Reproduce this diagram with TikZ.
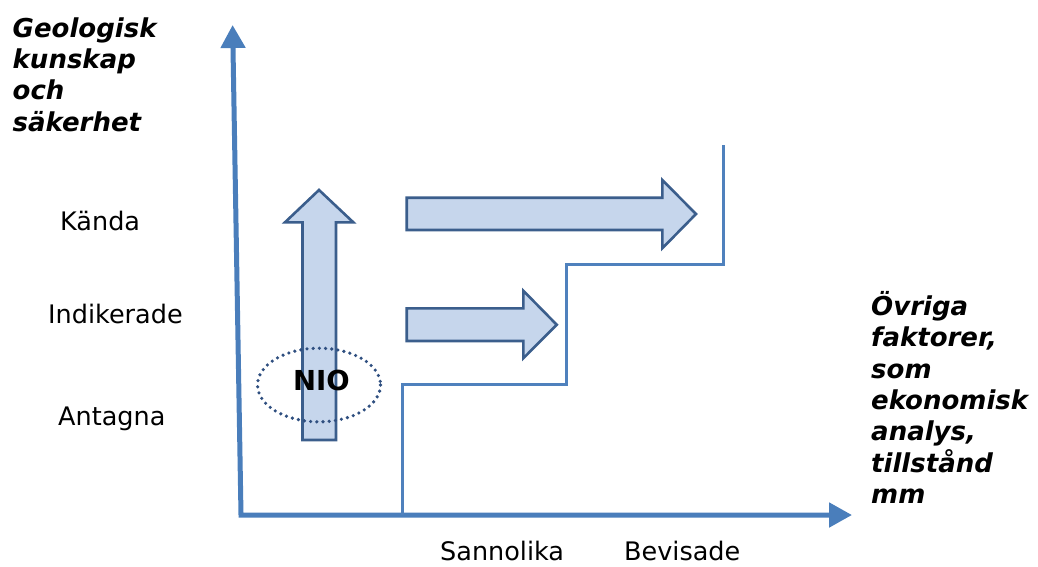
\documentclass[tikz,border=0pt]{standalone}
\usepackage{fontspec}
\setmainfont{DejaVu Sans}
\usetikzlibrary{arrows.meta}
\definecolor{axisblue}{HTML}{4A7EBB}
\definecolor{steplineblue}{HTML}{4F81BD}
\definecolor{arrowfill}{HTML}{C6D6EC}
\definecolor{arrowedge}{HTML}{3B5E8C}
\definecolor{dotblue}{HTML}{2F4F80}
\tikzset{
  axisline/.style={draw=axisblue, line width=5pt, line join=miter},
  stepline/.style={draw=steplineblue, line width=3pt, line join=miter},
  bigarrow/.style={fill=arrowfill, draw=arrowedge, line width=2.6pt, line join=miter},
  axtitle/.style={font=\fontsize{26}{31.4}\selectfont\bfseries\itshape, align=left, inner sep=0pt, anchor=north west},
  levellabel/.style={font=\fontsize{25.5}{30}\selectfont, inner sep=0pt, anchor=base west, text depth=0pt},
}
\begin{document}
\begin{tikzpicture}[x=1pt,y=-1pt]
\useasboundingbox (0,0) rectangle (1038,566);
% axes
\draw[axisline, {Triangle[length=23pt,width=24pt]}-{Triangle[length=23pt,width=24pt]}]
  (232.6,25) -- (241,515) -- (852,515);
% step line
\draw[stepline] (402,515) -- (402,384) -- (566,384) -- (566,264.5) -- (723,264.5) -- (723,145);
% vertical arrow
\draw[bigarrow] (302.5,440) -- (302.5,222.3) -- (285,222.3) -- (319,190) -- (353.3,222.3) -- (336,222.3) -- (336,440) -- cycle;
% top right arrow
\draw[bigarrow] (406.7,197.7) -- (662.3,197.7) -- (662.3,180) -- (696,214) -- (662.3,248.3) -- (662.3,230) -- (406.7,230) -- cycle;
% lower right arrow
\draw[bigarrow] (406.7,308.3) -- (523.3,308.3) -- (523.3,290.7) -- (556.7,324.7) -- (523.3,358.3) -- (523.3,341) -- (406.7,341) -- cycle;
% NIO
\node[font=\fontsize{27.5}{30}\selectfont\bfseries, inner sep=0pt, anchor=base] (nio) at (321.5,390) {NIO};
\draw[dotblue, line width=3.6pt, dash pattern=on 0pt off 6.2pt, line cap=round] (319,385) ellipse [x radius=61.5, y radius=36.8];
% axis titles
\node[axtitle] (ytitle) at (12.5,17.2) {Geologisk\\kunskap\\och\\säkerhet};
\node[axtitle] (xtitle) at (871,291) {Övriga\\faktorer,\\som\\ekonomisk\\analys,\\tillstånd\\mm};
% level labels
\node[levellabel] (kanda) at (60,230) {Kända};
\node[levellabel] (indik) at (48,323.5) {Indikerade};
\node[levellabel] (antag) at (58,425) {Antagna};
\node[levellabel] (sannol) at (440,560) {Sannolika};
\node[levellabel] (bevis) at (624,560) {Bevisade};
\end{tikzpicture}
\end{document}
